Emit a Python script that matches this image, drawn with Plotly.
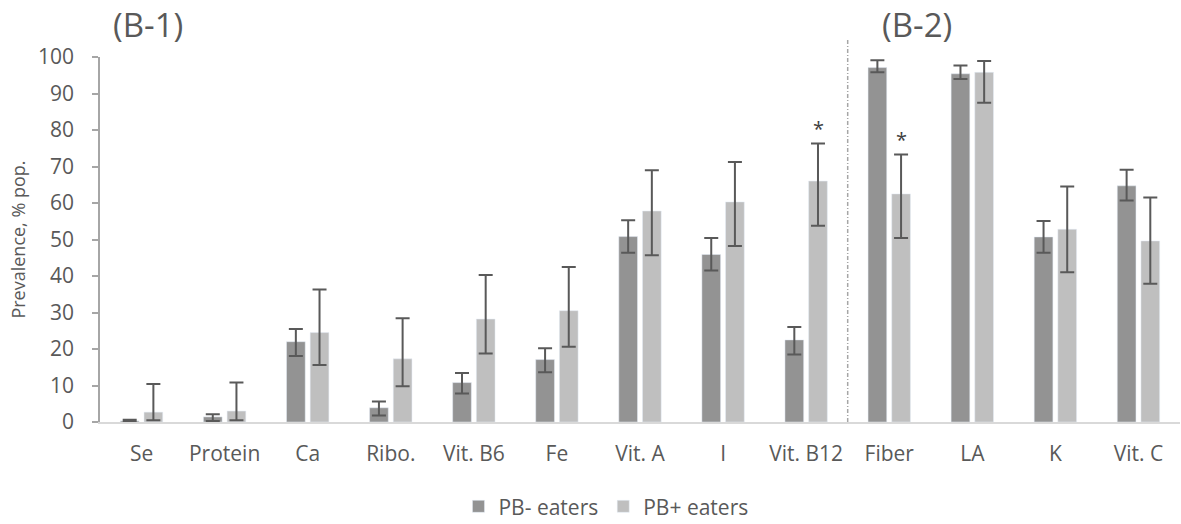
import plotly.graph_objects as go

categories = ["Se", "Protein", "Ca", "Ribo.", "Vit. B6", "Fe", "Vit. A", "I",
              "Vit. B12", "Fiber", "LA", "K", "Vit. C"]

pb_minus = [0.3, 1.4, 22.0, 3.9, 10.8, 17.1, 50.8, 45.9, 22.5, 97.1, 95.4, 50.7, 64.7]
pb_minus_hi = [0.6, 2.1, 25.5, 5.6, 13.4, 20.2, 55.3, 50.4, 26.0, 99.1, 97.7, 55.1, 69.1]
pb_minus_lo = [0.1, 0.3, 18.1, 1.8, 7.8, 13.6, 46.4, 41.5, 18.5, 95.8, 94.0, 46.4, 60.7]

pb_plus = [2.7, 3.0, 24.5, 17.3, 28.2, 30.5, 57.8, 60.3, 66.0, 62.5, 95.8, 52.8, 49.6]
pb_plus_hi = [10.4, 10.8, 36.3, 28.4, 40.3, 42.5, 69.0, 71.2, 76.3, 73.3, 98.9, 64.5, 61.5]
pb_plus_lo = [0.5, 0.5, 15.6, 9.8, 18.8, 20.6, 45.7, 48.2, 53.8, 50.4, 87.5, 41.0, 37.9]

significant = ["Vit. B12", "Fiber"]
y_ticks = [0, 10, 20, 30, 40, 50, 60, 70, 80, 90, 100]

FONT = "Open Sans"
TXT = "#595959"
DARK = "#939393"
LIGHT = "#bfbfbf"
ERR = "#595959"

fig = go.Figure()
fig.add_trace(go.Bar(
    name="PB- eaters", x=categories, y=pb_minus, marker=dict(color=DARK),
    error_y=dict(type="data", symmetric=False,
                 array=[h - v for h, v in zip(pb_minus_hi, pb_minus)],
                 arrayminus=[v - l for l, v in zip(pb_minus_lo, pb_minus)],
                 color=ERR, thickness=2, width=7)))
fig.add_trace(go.Bar(
    name="PB+ eaters", x=categories, y=pb_plus, marker=dict(color=LIGHT),
    error_y=dict(type="data", symmetric=False,
                 array=[h - v for h, v in zip(pb_plus_hi, pb_plus)],
                 arrayminus=[v - l for l, v in zip(pb_plus_lo, pb_plus)],
                 color=ERR, thickness=2, width=7)))

annotations = []
for c in significant:
    i = categories.index(c)
    annotations.append(dict(x=c, y=pb_plus_hi[i] + 4, xref="x", yref="y", text="*",
                            showarrow=False, xshift=12, yanchor="middle",
                            font=dict(family=FONT, size=20, color="#404040")))
annotations.append(dict(x=0.0444, y=1.088, xref="paper", yref="paper", text="(B-1)",
                        showarrow=False, xanchor="center", yanchor="middle",
                        font=dict(family=FONT, size=33, color=TXT)))
annotations.append(dict(x=0.7565, y=1.088, xref="paper", yref="paper", text="(B-2)",
                        showarrow=False, xanchor="center", yanchor="middle",
                        font=dict(family=FONT, size=33, color=TXT)))

fig.add_shape(type="line", xref="x", yref="paper", x0=8.5, x1=8.5, y0=0, y1=1.05,
              line=dict(color="#a6a6a6", width=1.5, dash="4px,2px,1px,2px"))

fig.update_layout(
    width=1181, height=524,
    margin=dict(l=100, r=1, t=57, b=102, autoexpand=False),
    paper_bgcolor="white", plot_bgcolor="white",
    barmode="group", bargap=0.43, bargroupgap=0.21,
    font=dict(family=FONT, color=TXT),
    annotations=annotations,
    showlegend=True,
    legend=dict(orientation="h", x=0.4685, xanchor="center", y=-0.232, yanchor="middle",
                font=dict(family=FONT, size=21, color=TXT), traceorder="normal"),
    xaxis=dict(showline=True, linecolor="#d9d9d9", linewidth=2, ticks="",
               tickfont=dict(family=FONT, size=21, color=TXT), ticklabelstandoff=12,
               showgrid=False, zeroline=False),
    yaxis=dict(range=[0, 100], tickvals=y_ticks, showline=True, linecolor="#a6a6a6",
               linewidth=1.5, ticks="outside", ticklen=6, tickcolor="#a6a6a6", tickwidth=1.5,
               tickfont=dict(family=FONT, size=21, color=TXT), ticklabelstandoff=14,
               showgrid=False, zeroline=False,
               title=dict(text="Prevalence, % pop.", font=dict(family=FONT, size=18, color=TXT),
                          standoff=8)),
)

fig.write_html("out.html")
